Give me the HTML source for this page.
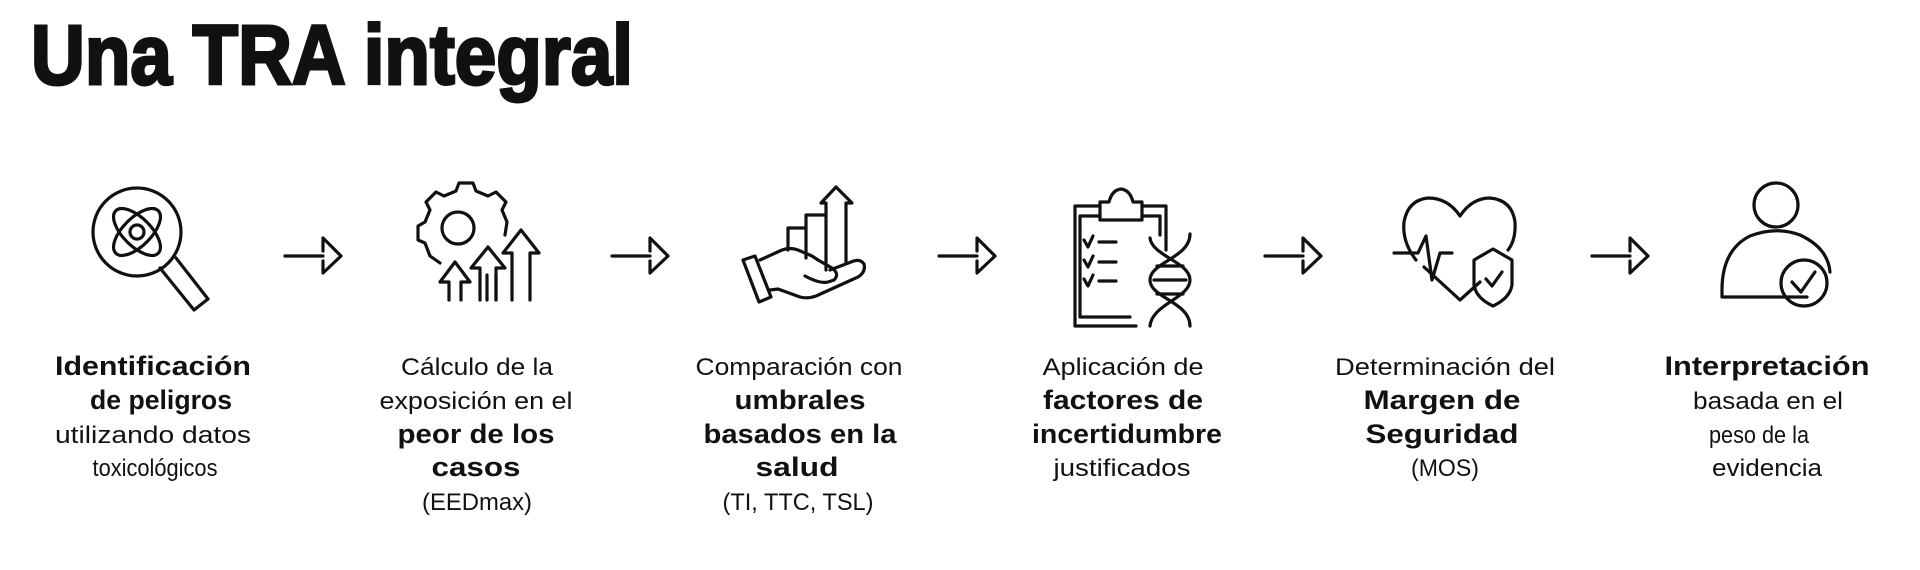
<!DOCTYPE html>
<html><head><meta charset="utf-8"><style>
html,body{margin:0;padding:0;background:#fff;width:1920px;height:570px;overflow:hidden}
svg{display:block}
text{font-family:"Liberation Sans",sans-serif;fill:#111}
.n{font-size:24px}
.b{font-size:27px;font-weight:bold}
</style></head><body>
<svg width="1920" height="570" viewBox="0 0 1920 570" xmlns="http://www.w3.org/2000/svg">
<text x="31" y="84" font-size="84" font-weight="bold" stroke="#111" stroke-width="3" textLength="602" lengthAdjust="spacingAndGlyphs" style="font-family:'Liberation Sans',sans-serif">Una TRA integral</text>

<g fill="none" stroke="#111" stroke-width="3.2" stroke-linejoin="round" stroke-linecap="round">
<g id="ar"><path d="M285 256 H323 M323 251 V238 L341 256 L323 273 V261"/></g>
<use href="#ar" x="327"/><use href="#ar" x="654"/><use href="#ar" x="980"/><use href="#ar" x="1307"/>

<!-- icon1 magnifier -->
<circle cx="137" cy="232" r="44"/>
<path d="M160 268 L194 310 L208 299 L176 258"/>
<ellipse cx="137" cy="232" rx="30" ry="14" transform="rotate(45 137 232)"/>
<ellipse cx="137" cy="232" rx="30" ry="14" transform="rotate(-45 137 232)"/>
<circle cx="137" cy="232" r="7"/>

<!-- icon2 gear + arrows -->
<path d="M440 263 L430 256 L425 243 L418 240 L418 226 L425 222 L430 210 L426 202 L436 192 L444 196 L456 191 L459 183 L473 183 L476 191 L488 196 L496 192 L506 202 L502 210 L507 222 L505 235"/>
<circle cx="458" cy="228" r="16"/>
<path d="M449 300 V282 H440 L455 262 L470 282 H461 V300"/>
<path d="M480 300 V268 H471 L488 247 L505 268 H496 V300"/>
<path d="M512 300 V253 H503 L521 230 L539 253 H530 V300"/>
<path d="M487 300 V275 M496 300 V275"/>

<!-- icon3 hand + bars -->
<path d="M788 250 V228 H806 V258 M806 228 V215 H826 V270 M826 270 V203 H821 L836 187 L852 203 H846 V262"/>
<path d="M743 260 L755 256 L771 297 L759 302 Z"/>
<path d="M760 260 L782 250 Q790 247 798 250 L812 256 L818 260 L832 268 Q840 274 834 280 L828 282 Q820 284 805 276"/>
<path d="M770 290 L778 289 L800 297 Q808 299 816 296 L858 277 Q866 272 864 264 Q860 258 851 262 L830 270"/>

<!-- icon4 clipboard + DNA -->
<path d="M1100 220 V202 H1109 Q1112 190 1121 189 Q1130 190 1133 202 H1142 V220 Z"/>
<path d="M1100 206 H1075 V326 H1136"/>
<path d="M1142 206 H1166 V250"/>
<path d="M1080 216 H1100 M1142 216 H1160 V235 M1080 216 V317 H1130"/>
<path d="M1084 240 L1088 247 L1093 236 M1099 242 H1116"/>
<path d="M1084 260 L1088 267 L1093 256 M1099 262 H1116"/>
<path d="M1084 279 L1088 286 L1093 275 M1099 281 H1116"/>
<path d="M1190 234 C1190 258 1150 262 1150 280 C1150 298 1190 302 1190 326"/>
<path d="M1150 238 C1152 256 1190 262 1190 280 C1190 298 1152 304 1150 326"/>
<path d="M1157 266 H1183 M1154 280 H1186 M1157 294 H1183"/>

<!-- icon5 heart pulse shield -->
<path d="M1416 260 Q1402 242 1404 222 Q1408 200 1428 198 Q1448 198 1460 216 Q1472 198 1490 198 Q1512 200 1515 222 Q1516 240 1508 250"/>
<path d="M1394 253 H1418 L1426 236 L1432 280 L1440 253 H1452"/>
<path d="M1424 267 L1460 300 L1480 282"/>
<path d="M1493 249 L1512 260 V285 Q1510 298 1493 306 Q1476 298 1474 285 V260 Z"/>
<path d="M1486 279 L1492 286 L1502 272"/>

<!-- icon6 person check -->
<circle cx="1776" cy="205" r="22"/>
<path d="M1807 297 H1722 V290 Q1722 250 1750 236 Q1776 226 1800 235 Q1828 248 1830 272"/>
<circle cx="1804" cy="283" r="23"/>
<path d="M1792 282 L1801 292 L1815 272"/>
</g>

<g text-anchor="middle">
<text class="b" x="153" y="375" textLength="196" lengthAdjust="spacingAndGlyphs">Identificación</text>
<text class="b" x="161" y="409" textLength="142" lengthAdjust="spacingAndGlyphs">de peligros</text>
<text class="n" x="153" y="443" textLength="196" lengthAdjust="spacingAndGlyphs">utilizando datos</text>
<text class="n" x="155" y="476" textLength="125" lengthAdjust="spacingAndGlyphs">toxicológicos</text>

<text class="n" x="477" y="375" textLength="152" lengthAdjust="spacingAndGlyphs">Cálculo de la</text>
<text class="n" x="476" y="409" textLength="193" lengthAdjust="spacingAndGlyphs">exposición en el</text>
<text class="b" x="476" y="443" textLength="157" lengthAdjust="spacingAndGlyphs">peor de los</text>
<text class="b" x="476" y="476" textLength="89" lengthAdjust="spacingAndGlyphs">casos</text>
<text class="n" x="477" y="510" textLength="110" lengthAdjust="spacingAndGlyphs">(EEDmax)</text>

<text class="n" x="799" y="375" textLength="207" lengthAdjust="spacingAndGlyphs">Comparación con</text>
<text class="b" x="800" y="409" textLength="131" lengthAdjust="spacingAndGlyphs">umbrales</text>
<text class="b" x="800" y="443" textLength="193" lengthAdjust="spacingAndGlyphs">basados en la</text>
<text class="b" x="797" y="476" textLength="83" lengthAdjust="spacingAndGlyphs">salud</text>
<text class="n" x="798" y="510" textLength="151" lengthAdjust="spacingAndGlyphs">(TI, TTC, TSL)</text>

<text class="n" x="1123" y="375" textLength="161" lengthAdjust="spacingAndGlyphs">Aplicación de</text>
<text class="b" x="1123" y="409" textLength="160" lengthAdjust="spacingAndGlyphs">factores de</text>
<text class="b" x="1127" y="443" textLength="190" lengthAdjust="spacingAndGlyphs">incertidumbre</text>
<text class="n" x="1122" y="476" textLength="137" lengthAdjust="spacingAndGlyphs">justificados</text>

<text class="n" x="1445" y="375" textLength="220" lengthAdjust="spacingAndGlyphs">Determinación del</text>
<text class="b" x="1442" y="409" textLength="157" lengthAdjust="spacingAndGlyphs">Margen de</text>
<text class="b" x="1442" y="443" textLength="153" lengthAdjust="spacingAndGlyphs">Seguridad</text>
<text class="n" x="1445" y="476" textLength="68" lengthAdjust="spacingAndGlyphs">(MOS)</text>

<text class="b" x="1767" y="375" textLength="205" lengthAdjust="spacingAndGlyphs">Interpretación</text>
<text class="n" x="1768" y="409" textLength="150" lengthAdjust="spacingAndGlyphs">basada en el</text>
<text class="n" x="1759" y="443" textLength="100" lengthAdjust="spacingAndGlyphs">peso de la</text>
<text class="n" x="1767" y="476" textLength="110" lengthAdjust="spacingAndGlyphs">evidencia</text>
</g>
</svg>
</body></html>
